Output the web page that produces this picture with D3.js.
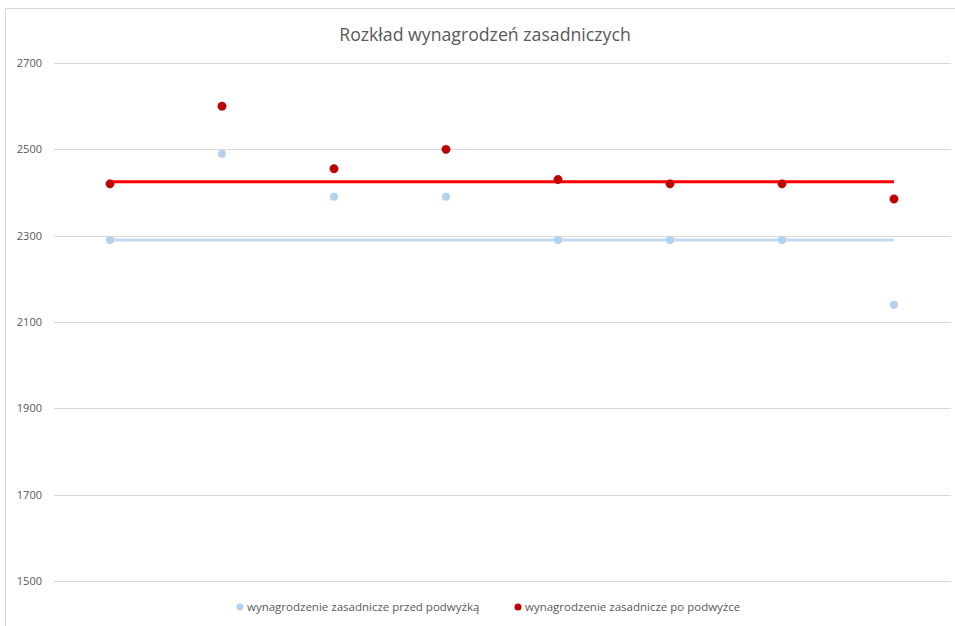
<!DOCTYPE html>
<html>
<head>
<meta charset="utf-8">
<script src="https://cdn.jsdelivr.net/npm/d3@7"></script>
<style>
  body { margin: 0; background: #fff; }
  svg { display: block; font-family: "Open Sans", sans-serif; }
</style>
</head>
<body>
<div id="chart"></div>
<script>
// dane
var categories = ["1", "2", "3", "4", "5", "6", "7", "8"];
var przed = [2290, 2490, 2390, 2390, 2290, 2290, 2290, 2140];
var po = [2420, 2600, 2455, 2500, 2430, 2420, 2420, 2385];
// linie poziome (mediana)
var liniaPrzed = [2290, 2290, 2290, 2290, 2290, 2290, 2290, 2290];
var liniaPo = [2425, 2425, 2425, 2425, 2425, 2425, 2425, 2425];
var yTicks = [1500, 1700, 1900, 2100, 2300, 2500, 2700];
var seriesNames = ["wynagrodzenie zasadnicze przed podwyżką", "wynagrodzenie zasadnicze po podwyżce"];

var W = 955, H = 626;

var svg = d3.select("#chart").append("svg")
    .attr("width", W)
    .attr("height", H);

// ramka wykresu
svg.append("rect")
    .attr("x", 5.5).attr("y", 8.5)
    .attr("width", W).attr("height", H)
    .attr("fill", "none")
    .attr("stroke", "#d9d9d9");

var x = d3.scalePoint().domain(categories).range([54, 950]).padding(0.5);
var y = d3.scaleLinear().domain([1500, 2700]).range([581, 63]);

// siatka
svg.append("g").selectAll("line")
    .data(yTicks)
  .enter().append("line")
    .attr("x1", 54).attr("x2", 951)
    .attr("y1", function(d) { return Math.round(y(d)) + 0.5; })
    .attr("y2", function(d) { return Math.round(y(d)) + 0.5; })
    .attr("stroke", "#d9d9d9")
    .attr("stroke-width", 1);

// etykiety osi Y
svg.append("g").selectAll("text")
    .data(yTicks)
  .enter().append("text")
    .attr("x", 42)
    .attr("y", function(d) { return y(d) + 4; })
    .attr("text-anchor", "end")
    .attr("font-size", "11px")
    .attr("fill", "#595959")
    .text(function(d) { return d; });

// tytul
svg.append("text")
    .attr("x", 485).attr("y", 41)
    .attr("text-anchor", "middle")
    .attr("font-size", "17.7px")
    .attr("fill", "#595959")
    .text("Rozkład wynagrodzeń zasadniczych");

var line = d3.line()
    .x(function(d, i) { return x(categories[i]); })
    .y(function(d) { return y(d); });

svg.append("path")
    .datum(liniaPrzed)
    .attr("d", line)
    .attr("fill", "none")
    .attr("stroke", "#c5d9ef")
    .attr("stroke-width", 3);

svg.append("path")
    .datum(liniaPo)
    .attr("d", line)
    .attr("fill", "none")
    .attr("stroke", "#ff0000")
    .attr("stroke-width", 3);

// punkty
svg.append("g").selectAll("circle")
    .data(przed)
  .enter().append("circle")
    .attr("cx", function(d, i) { return x(categories[i]); })
    .attr("cy", function(d) { return y(d); })
    .attr("r", 4)
    .attr("fill", "#b4d0ec");

svg.append("g").selectAll("circle")
    .data(po)
  .enter().append("circle")
    .attr("cx", function(d, i) { return x(categories[i]); })
    .attr("cy", function(d) { return y(d); })
    .attr("r", 4.2)
    .attr("fill", "#c00000")
    .attr("stroke", "#b00000")
    .attr("stroke-width", 0.5);

// legenda
var legendX = [240, 518];
var legendColors = ["#b4d0ec", "#c00000"];
var legend = svg.append("g").selectAll("g")
    .data(seriesNames)
  .enter().append("g")
    .attr("transform", function(d, i) { return "translate(" + legendX[i] + ",607)"; });

legend.append("circle")
    .attr("r", 3.5)
    .attr("fill", function(d, i) { return legendColors[i]; });

legend.append("text")
    .attr("x", 7)
    .attr("y", 4)
    .attr("font-size", "11.5px")
    .attr("fill", "#595959")
    .text(function(d) { return d; });
</script>
</body>
</html>
